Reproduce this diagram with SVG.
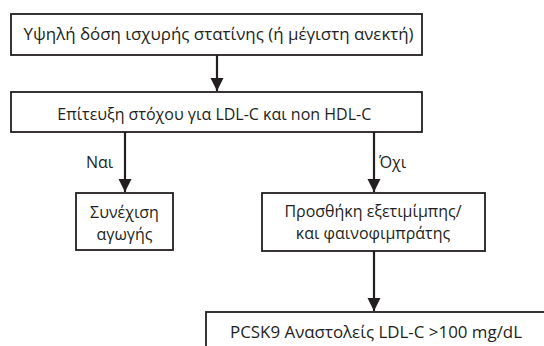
<svg xmlns="http://www.w3.org/2000/svg" width="544" height="346" viewBox="0 0 544 346">
<style>
.box{fill:#fff;stroke:#231f20;stroke-width:1.8}
.t{font-family:"Open Sans","Liberation Sans",sans-serif;font-size:16px;fill:#231f20;text-anchor:middle}
.l{font-family:"Open Sans","Liberation Sans",sans-serif;font-size:16px;fill:#231f20}
.c{stroke:#231f20;stroke-width:2.2;fill:none}
</style>
<defs>
<marker id="ah" markerUnits="userSpaceOnUse" markerWidth="14" markerHeight="14" refX="13" refY="7" orient="auto">
<path d="M0,0.5 L13,7 L0,13.5 z" fill="#231f20"/>
</marker>
</defs>
<rect width="544" height="346" fill="#fff"/>
<g id="connectors">
<line class="c" x1="217" y1="55" x2="217" y2="91" marker-end="url(#ah)"/>
<line class="c" x1="125" y1="132" x2="125" y2="192" marker-end="url(#ah)"/>
<line class="c" x1="374" y1="132" x2="374" y2="192" marker-end="url(#ah)"/>
<line class="c" x1="374" y1="251" x2="374" y2="311" marker-end="url(#ah)"/>
<text class="l" x="86" y="168">Ναι</text>
<text class="l" x="379" y="168">Όχι</text>
</g>
<g id="n1">
<rect class="box" x="11" y="14" width="411" height="41"/>
<text class="t" x="218.6" y="40" textLength="390" lengthAdjust="spacingAndGlyphs">Υψηλή δόση ισχυρής στατίνης (ή μέγιστη ανεκτή)</text>
</g>
<g id="n2">
<rect class="box" x="11" y="92" width="411" height="40"/>
<text class="t" x="214.3" y="120">Επίτευξη στόχου για LDL-C και non HDL-C</text>
</g>
<g id="n3">
<rect class="box" x="76" y="193" width="97" height="57"/>
<text class="t" x="124.5" y="218">Συνέχιση</text>
<text class="t" x="124.5" y="240">αγωγής</text>
</g>
<g id="n4">
<rect class="box" x="262" y="193" width="223" height="58"/>
<text class="t" x="373" y="217">Προσθήκη εξετιμίμπης/</text>
<text class="t" x="373" y="239">και φαινοφιμπράτης</text>
</g>
<g id="n5">
<rect class="box" x="206" y="312" width="350" height="50"/>
<text class="t" x="376" y="338" textLength="292" lengthAdjust="spacingAndGlyphs">PCSK9 Αναστολείς LDL-C &gt;100 mg/dL</text>
</g>
</svg>
